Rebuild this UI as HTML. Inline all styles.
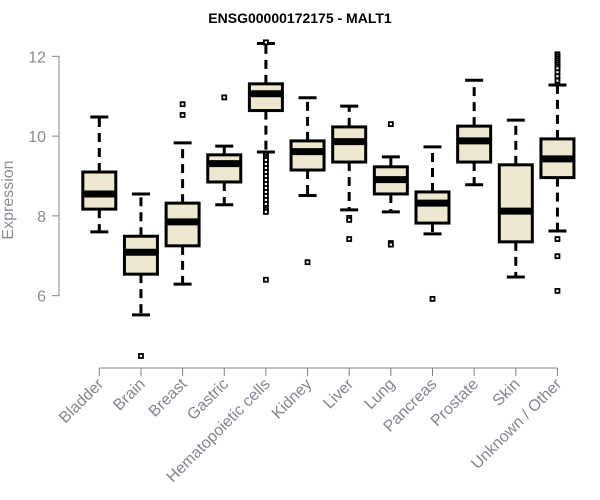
<!DOCTYPE html>
<html><head><meta charset="utf-8"><style>
body{margin:0;background:#fff;}
svg{display:block;font-family:"Liberation Sans",sans-serif;}
</style></head><body>
<svg id="chart" width="600" height="500"></svg>
<script>
const categories=["Bladder","Brain","Breast","Gastric","Hematopoietic cells","Kidney","Liver","Lung","Pancreas","Prostate","Skin","Unknown / Other"];
const whiskerLow=[7.6,5.52,6.29,8.28,9.6,8.51,8.15,8.1,7.55,8.78,6.47,7.62];
const q1=[8.17,6.54,7.25,8.85,10.64,9.15,9.35,8.55,7.82,9.35,7.35,8.96];
const median=[8.55,7.09,7.85,9.31,11.06,9.61,9.86,8.91,8.32,9.88,8.12,9.43];
const q3=[9.10,7.49,8.32,9.53,11.31,9.88,10.23,9.23,8.6,10.25,9.28,9.93];
const whiskerHigh=[10.48,8.55,9.83,9.75,12.32,10.96,10.75,9.48,9.73,11.4,10.4,11.28];
const outliers=[[],[4.49],[10.8,10.53],[10.97],[12.35,9.55,9.5,9.45,9.4,9.3,9.2,9.1,9.0,8.9,8.8,8.7,8.6,8.5,8.4,8.3,8.2,8.15,8.1,6.4],[6.84],[7.95,7.9,7.42],[10.3,7.32,7.28],[5.92],[],[],[12.05,12.0,11.95,11.9,11.85,11.8,11.75,11.7,11.6,11.5,11.39,7.42,6.99,6.12]];
const yTicks=[6,8,10,12];
const NS="http://www.w3.org/2000/svg";
const svg=document.getElementById('chart');
const y=v=>56.3+(12-v)*39.9;
const x=i=>99.3+i*41.65;
function el(t,a,p){const e=document.createElementNS(NS,t);for(const k in a)e.setAttribute(k,a[k]);(p||svg).appendChild(e);return e;}
let t=el('text',{x:300,y:23,'text-anchor':'middle','font-size':14,'font-weight':'bold',fill:'#000'});t.textContent="ENSG00000172175 - MALT1";


let ya=el('line',{x1:59,x2:59,y1:y(12),y2:y(6),stroke:'#808080'});


yTicks.forEach(v=>{
 el('line',{x1:52,x2:59,y1:y(v),y2:y(v),stroke:'#808080'});
 const l=el('text',{x:46,y:y(v)+6,'text-anchor':'end','font-size':16,fill:'#8a8a98'});l.textContent=v;
 
 
});
let yt=el('text',{x:0,y:0,transform:'translate(13,200) rotate(-90)','text-anchor':'middle','font-size':16,fill:'#8a8a98'});yt.textContent="Expression";


let xa=el('line',{x1:x(0),x2:x(11),y1:368,y2:368,stroke:'#808080'});


categories.forEach((c,i)=>{
 const cx=x(i),hw=16.5;
 el('line',{x1:cx,x2:cx,y1:368,y2:376,stroke:'#808080'});
 const l=el('text',{x:0,y:0,transform:`translate(${cx+5},${385}) rotate(-45)`,'text-anchor':'end','font-size':16,fill:'#8a8290'});l.textContent=c;
 
 
 const g=el('g',{});
 
 
 el('line',{x1:cx,x2:cx,y1:y(q3[i]),y2:y(whiskerHigh[i]),stroke:'#000','stroke-width':3,'stroke-dasharray':'9,6'},g);
 el('line',{x1:cx,x2:cx,y1:y(q1[i]),y2:y(whiskerLow[i]),stroke:'#000','stroke-width':3,'stroke-dasharray':'9,6'},g);
 el('line',{x1:cx-9,x2:cx+9,y1:y(whiskerHigh[i]),y2:y(whiskerHigh[i]),stroke:'#000','stroke-width':3},g);
 el('line',{x1:cx-9,x2:cx+9,y1:y(whiskerLow[i]),y2:y(whiskerLow[i]),stroke:'#000','stroke-width':3},g);
 el('rect',{x:cx-hw,y:y(q3[i]),width:hw*2,height:y(q1[i])-y(q3[i]),fill:'#ede8cf',stroke:'#000','stroke-width':3},g);
 el('line',{x1:cx-hw,x2:cx+hw,y1:y(median[i]),y2:y(median[i]),stroke:'#000','stroke-width':7},g);
 outliers[i].forEach(o=>{
  const p=el('rect',{x:cx-2,y:y(o)-2,width:4,height:4,fill:'#fff',stroke:'#000','stroke-width':1.8},g);
  
  
 });
});
</script>
</body></html>
